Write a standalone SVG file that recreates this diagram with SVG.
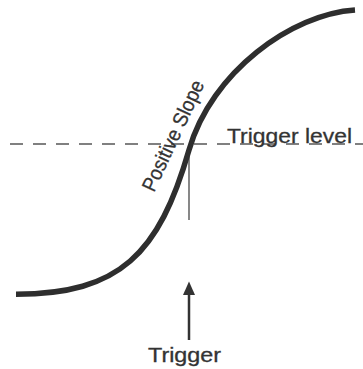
<svg xmlns="http://www.w3.org/2000/svg" width="363" height="369" viewBox="0 0 363 369">
<style>
.lbl{font-family:"Liberation Sans",Arial,Helvetica,sans-serif;fill:#333;stroke:#333;stroke-width:0.3}
.curve{fill:none;stroke:#2e2e2e;stroke-width:5.5}
</style>
<rect width="363" height="369" fill="#fff"/>
<g id="connectors">
<line id="trigger-level-line" x1="10" y1="144" x2="363" y2="144" stroke="#808080" stroke-width="2" stroke-dasharray="13 10"/>
<line id="trigger-mark" x1="189" y1="150" x2="189" y2="220" stroke="#555" stroke-width="1.4"/>
<g id="trigger-arrow">
<line x1="189" y1="340" x2="189" y2="293" stroke="#333" stroke-width="2.5"/>
<polygon points="189,281.5 183,295 195,295" fill="#333"/>
</g>
</g>
<g id="signal">
<path class="curve" d="M16,294.3 C120,294 159,254 189,150 C211.5,71.7 292,14 355,10"/>
</g>
<g id="labels">
<text class="lbl" x="227" y="142.5" font-size="21" textLength="125" lengthAdjust="spacingAndGlyphs">Trigger level</text>
<text class="lbl" x="148" y="361.7" font-size="19.5" textLength="73" lengthAdjust="spacingAndGlyphs">Trigger</text>
<text class="lbl" font-size="20.5" transform="translate(154,193) rotate(-65)" textLength="120" lengthAdjust="spacingAndGlyphs">Positive Slope</text>
</g>
</svg>
